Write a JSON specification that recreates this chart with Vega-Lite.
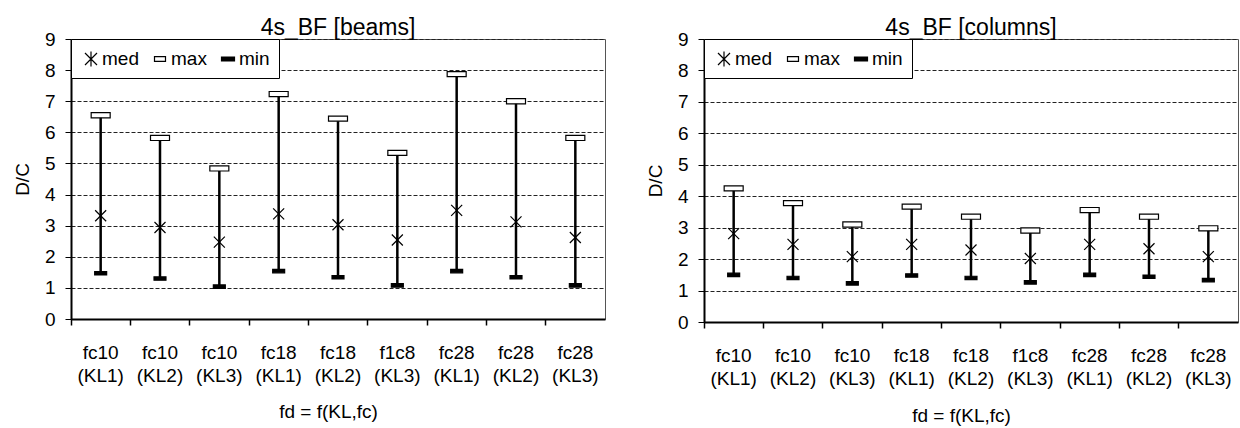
{
  "$schema": "https://vega.github.io/schema/vega-lite/v6.json",
  "background": "white",
  "padding": {"left": 12, "top": 16, "right": 0, "bottom": 0},
  "autosize": {"type": "pad"},
  "spacing": 39,
  "config": {
    "font": "Liberation Sans",
    "view": {"stroke": "#555555", "strokeWidth": 1},
    "title": {"fontSize": 23, "fontWeight": "normal", "color": "black", "font": "Liberation Sans", "offset": -10},
    "axis": {
      "labelFont": "Liberation Sans", "labelFontSize": 19, "labelColor": "black",
      "titleFont": "Liberation Sans", "titleFontSize": 19, "titleFontWeight": "normal", "titleColor": "black",
      "domainColor": "black", "tickColor": "black"
    },
    "axisY": {"values": [0,1,2,3,4,5,6,7,8,9], "labelOverlap": false, "grid": true, "gridDash": [4, 2], "gridColor": "#222222",
      "domainWidth": 2, "tickSize": 6, "labelPadding": 10, "titlePadding": 12},
    "legend": {
      "labelFont": "Liberation Sans", "labelFontSize": 19, "labelColor": "black",
      "symbolSize": 400, "symbolStrokeWidth": 1.2,
      "columnPadding": 10, "padding": 9, "strokeColor": "black", "fillColor": "white",
      "offset": 0, "labelOffset": 0, "cornerRadius": 0, "symbolOpacity": 1
    }
  },
  "datasets": {
    "beams": [
      {"cat": "fc10 (KL1)", "max": 6.55, "med": 3.32, "min": 1.47},
      {"cat": "fc10 (KL2)", "max": 5.82, "med": 2.94, "min": 1.30},
      {"cat": "fc10 (KL3)", "max": 4.84, "med": 2.47, "min": 1.04},
      {"cat": "fc18 (KL1)", "max": 7.23, "med": 3.38, "min": 1.54},
      {"cat": "fc18 (KL2)", "max": 6.44, "med": 3.03, "min": 1.34},
      {"cat": "f1c8 (KL3)", "max": 5.34, "med": 2.54, "min": 1.08},
      {"cat": "fc28 (KL1)", "max": 7.87, "med": 3.49, "min": 1.54},
      {"cat": "fc28 (KL2)", "max": 7.00, "med": 3.12, "min": 1.34},
      {"cat": "fc28 (KL3)", "max": 5.82, "med": 2.62, "min": 1.08}
    ],
    "columns": [
      {"cat": "fc10 (KL1)", "max": 4.25, "med": 2.81, "min": 1.50},
      {"cat": "fc10 (KL2)", "max": 3.78, "med": 2.47, "min": 1.40},
      {"cat": "fc10 (KL3)", "max": 3.10, "med": 2.08, "min": 1.23},
      {"cat": "fc18 (KL1)", "max": 3.67, "med": 2.47, "min": 1.48},
      {"cat": "fc18 (KL2)", "max": 3.35, "med": 2.29, "min": 1.40},
      {"cat": "f1c8 (KL3)", "max": 2.91, "med": 2.02, "min": 1.26},
      {"cat": "fc28 (KL1)", "max": 3.56, "med": 2.47, "min": 1.50},
      {"cat": "fc28 (KL2)", "max": 3.35, "med": 2.33, "min": 1.44},
      {"cat": "fc28 (KL3)", "max": 2.98, "med": 2.08, "min": 1.33}
    ]
  },
  "resolve": {
    "scale": {"x": "independent", "y": "independent", "shape": "independent", "fill": "independent"},
    "legend": {"shape": "independent", "fill": "independent"},
    "axis": {"x": "independent", "y": "independent"}
  },
  "hconcat": [
    {
      "width": 534, "height": 280,
      "title": {"text": "4s_BF [beams]"},
      "data": {"name": "beams"},
      "resolve": {"scale": {"shape": "independent", "fill": "independent"}},
      "encoding": {
        "x": {"field": "cat", "type": "nominal", "sort": null,
          "scale": {"paddingInner": 0, "paddingOuter": 0},
          "axis": {"title": "fd = f(KL,fc)", "labelAngle": 0, "labelExpr": "split(datum.label, ' ')",
            "labelLineHeight": 23, "labelPadding": 18, "bandPosition": 0, "tickSize": 6, "tickWidth": 1.5,
            "domainWidth": 2, "titleX": 257, "titleY": 98, "titleBaseline": "alphabetic"}}
      },
      "layer": [
        {
          "mark": {"type": "rule", "stroke": "black", "strokeWidth": 2.5},
          "encoding": {
            "y": {"field": "min", "type": "quantitative", "scale": {"domain": [0, 9], "nice": false}, "axis": {"title": "D/C"}},
            "y2": {"field": "max"}
          }
        },
        {
          "transform": [{"fold": ["med", "max", "min"], "as": ["stat", "v"]}],
          "mark": {"type": "point", "filled": true, "stroke": "black", "strokeWidth": 1.2, "size": 361, "opacity": 1},
          "encoding": {
            "y": {"field": "v", "type": "quantitative", "axis": {"title": "D/C"}},
            "shape": {"field": "stat", "type": "nominal", "legend": null,
              "scale": {"domain": ["med", "max", "min"], "range": ["M-0.58,-0.58L0.58,0.58M-0.58,0.58L0.58,-0.58", "M-1,-0.27L1,-0.27L1,0.27L-1,0.27Z", "M-0.63,-0.18L0.63,-0.18L0.63,0.18L-0.63,0.18Z"]}},
            "fill": {"field": "stat", "type": "nominal", "legend": null,
              "scale": {"domain": ["med", "max", "min"], "range": ["black", "white", "black"]}}
          }
        },
        {
          "transform": [{"fold": ["med", "max", "min"], "as": ["stat", "v"]}],
          "mark": {"type": "point", "filled": true, "stroke": "black", "strokeWidth": 1.2, "opacity": 0},
          "encoding": {
            "y": {"field": "v", "type": "quantitative", "axis": {"title": "D/C"}},
            "shape": {"field": "stat", "type": "nominal",
              "scale": {"domain": ["med", "max", "min"], "range": ["M-0.6,-0.6L0.6,0.6M-0.6,0.6L0.6,-0.6M0,-0.75L0,0.75", "M-0.55,-0.24L0.55,-0.24L0.55,0.24L-0.55,0.24Z", "M-0.65,-0.2L0.65,-0.2L0.65,0.2L-0.65,0.2Z"]},
              "legend": {"title": null, "orient": "top-left", "direction": "horizontal"}},
            "fill": {"field": "stat", "type": "nominal",
              "scale": {"domain": ["med", "max", "min"], "range": ["black", "white", "black"]},
              "legend": {"title": null, "orient": "top-left", "direction": "horizontal"}}
          }
        }
      ]
    },
    {
      "width": 534, "height": 283,
      "title": {"text": "4s_BF [columns]"},
      "data": {"name": "columns"},
      "resolve": {"scale": {"shape": "independent", "fill": "independent"}},
      "encoding": {
        "x": {"field": "cat", "type": "nominal", "sort": null,
          "scale": {"paddingInner": 0, "paddingOuter": 0},
          "axis": {"title": "fd = f(KL,fc)", "labelAngle": 0, "labelExpr": "split(datum.label, ' ')",
            "labelLineHeight": 23, "labelPadding": 18, "bandPosition": 0, "tickSize": 6, "tickWidth": 1.5,
            "domainWidth": 2, "titleX": 257, "titleY": 99, "titleBaseline": "alphabetic"}}
      },
      "layer": [
        {
          "mark": {"type": "rule", "stroke": "black", "strokeWidth": 2.5},
          "encoding": {
            "y": {"field": "min", "type": "quantitative", "scale": {"domain": [0, 9], "nice": false}, "axis": {"title": "D/C"}},
            "y2": {"field": "max"}
          }
        },
        {
          "transform": [{"fold": ["med", "max", "min"], "as": ["stat", "v"]}],
          "mark": {"type": "point", "filled": true, "stroke": "black", "strokeWidth": 1.2, "size": 361, "opacity": 1},
          "encoding": {
            "y": {"field": "v", "type": "quantitative", "axis": {"title": "D/C"}},
            "shape": {"field": "stat", "type": "nominal", "legend": null,
              "scale": {"domain": ["med", "max", "min"], "range": ["M-0.58,-0.58L0.58,0.58M-0.58,0.58L0.58,-0.58", "M-1,-0.27L1,-0.27L1,0.27L-1,0.27Z", "M-0.63,-0.18L0.63,-0.18L0.63,0.18L-0.63,0.18Z"]}},
            "fill": {"field": "stat", "type": "nominal", "legend": null,
              "scale": {"domain": ["med", "max", "min"], "range": ["black", "white", "black"]}}
          }
        },
        {
          "transform": [{"fold": ["med", "max", "min"], "as": ["stat", "v"]}],
          "mark": {"type": "point", "filled": true, "stroke": "black", "strokeWidth": 1.2, "opacity": 0},
          "encoding": {
            "y": {"field": "v", "type": "quantitative", "axis": {"title": "D/C"}},
            "shape": {"field": "stat", "type": "nominal",
              "scale": {"domain": ["med", "max", "min"], "range": ["M-0.6,-0.6L0.6,0.6M-0.6,0.6L0.6,-0.6M0,-0.75L0,0.75", "M-0.55,-0.24L0.55,-0.24L0.55,0.24L-0.55,0.24Z", "M-0.65,-0.2L0.65,-0.2L0.65,0.2L-0.65,0.2Z"]},
              "legend": {"title": null, "orient": "top-left", "direction": "horizontal"}},
            "fill": {"field": "stat", "type": "nominal",
              "scale": {"domain": ["med", "max", "min"], "range": ["black", "white", "black"]},
              "legend": {"title": null, "orient": "top-left", "direction": "horizontal"}}
          }
        }
      ]
    }
  ]
}
